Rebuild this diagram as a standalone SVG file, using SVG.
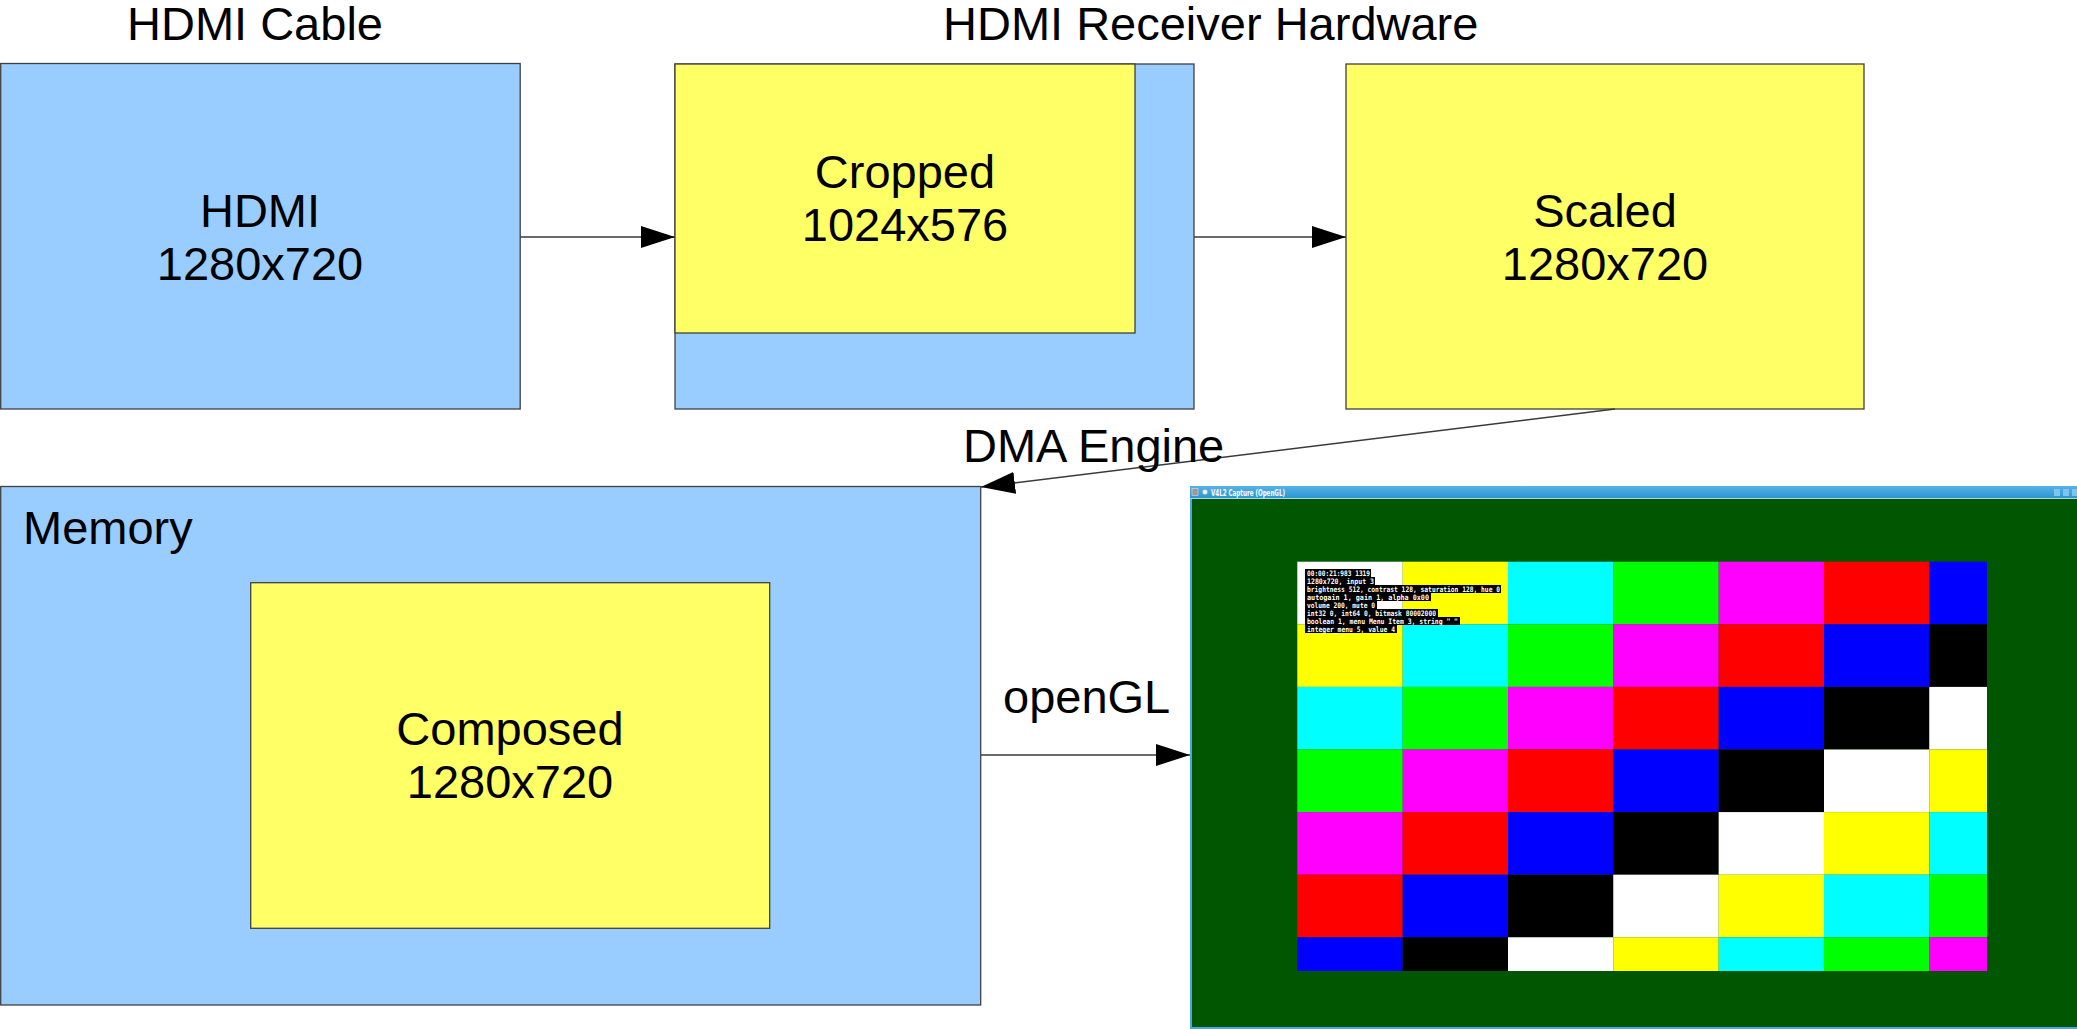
<svg xmlns="http://www.w3.org/2000/svg" width="2077" height="1029" viewBox="0 0 2077 1029">
<style>
.lbl{font-family:"Liberation Sans",Arial,sans-serif;font-size:47px;fill:#000}
.mid{text-anchor:middle}
.blue{fill:#99ccff;stroke:#404040;stroke-width:1.3}
.yel{fill:#ffff66;stroke:#404040;stroke-width:1.3}
.conn{stroke:#3a3a3a;stroke-width:1.4;fill:none;marker-end:url(#ah)}
.osd{font-family:"DejaVu Sans Mono","Liberation Mono",monospace;font-size:7.5px;font-weight:bold;fill:#fff}
</style>
<defs>
<marker id="ah" markerUnits="userSpaceOnUse" markerWidth="34" markerHeight="22" refX="34" refY="11" orient="auto">
<path d="M0,0 L34,11 L0,22 z" fill="#000"/>
</marker>
<linearGradient id="tb" x1="0" y1="0" x2="0" y2="1">
<stop offset="0" stop-color="#56b3e8"/>
<stop offset="1" stop-color="#2a93d0"/>
</linearGradient>
</defs>
<rect width="2077" height="1029" fill="#fff"/>

<text class="lbl mid" x="255" y="40">HDMI Cable</text>
<text class="lbl" x="943" y="40">HDMI Receiver Hardware</text>

<g id="hdmi">
<rect class="blue" x="0.7" y="63.5" width="519.5" height="345.5"/>
<text class="lbl mid" x="260" y="227">HDMI</text>
<text class="lbl mid" x="260" y="280">1280x720</text>
</g>

<g id="receiver">
<rect class="blue" x="675" y="64" width="519" height="345"/>
<rect class="yel" x="675" y="64" width="460" height="269"/>
<text class="lbl mid" x="905" y="188">Cropped</text>
<text class="lbl mid" x="905" y="241">1024x576</text>
</g>

<g id="scaled">
<rect class="yel" x="1346" y="64" width="518" height="345"/>
<text class="lbl mid" x="1605" y="227">Scaled</text>
<text class="lbl mid" x="1605" y="280">1280x720</text>
</g>

<g id="memory">
<rect class="blue" x="0.7" y="486.5" width="980" height="518.5"/>
<text class="lbl" x="23" y="544">Memory</text>
<rect class="yel" x="250.7" y="582.7" width="519" height="345.6"/>
<text class="lbl mid" x="510" y="745">Composed</text>
<text class="lbl mid" x="510" y="798">1280x720</text>
</g>

<g id="capture">
<rect x="1190" y="486" width="890" height="543" fill="#4aa8dc"/>
<rect x="1190" y="486" width="890" height="13" fill="url(#tb)"/>
<line x1="1190" y1="498.5" x2="2077" y2="498.5" stroke="#a8d8f0" stroke-width="1"/>
<rect x="1192" y="488.5" width="6" height="7" fill="#9a9a9a" stroke="#dddddd" stroke-width="0.6"/>
<circle cx="1205" cy="492" r="2.8" fill="#e8f4fb" stroke="#5a8fb0" stroke-width="0.6"/>
<text x="1211" y="495.5" font-family="'DejaVu Sans','Liberation Sans',sans-serif" font-size="8.5" font-weight="bold" fill="#fff" textLength="74" lengthAdjust="spacingAndGlyphs">V4L2 Capture (OpenGL)</text>
<rect x="2054" y="489" width="6" height="7" fill="#7fc4ea"/>
<rect x="2063" y="489" width="6" height="7" fill="#7fc4ea"/>
<rect x="2072" y="489" width="5" height="7" fill="#7fc4ea"/>
<rect x="1192" y="499" width="885" height="528" fill="#015701"/>
<g id="bars">
<rect x="1297.3" y="561.7" width="105.4" height="62.6" fill="#ffffff"/>
<rect x="1402.7" y="561.7" width="105.3" height="62.6" fill="#ffff00"/>
<rect x="1508" y="561.7" width="105.3" height="62.6" fill="#00ffff"/>
<rect x="1613.3" y="561.7" width="105.4" height="62.6" fill="#00ff00"/>
<rect x="1718.7" y="561.7" width="105.3" height="62.6" fill="#ff00ff"/>
<rect x="1824" y="561.7" width="105.3" height="62.6" fill="#ff0000"/>
<rect x="1929.3" y="561.7" width="57.7" height="62.6" fill="#0000ff"/>

<rect x="1297.3" y="624.3" width="105.4" height="62.6" fill="#ffff00"/>
<rect x="1402.7" y="624.3" width="105.3" height="62.6" fill="#00ffff"/>
<rect x="1508" y="624.3" width="105.3" height="62.6" fill="#00ff00"/>
<rect x="1613.3" y="624.3" width="105.4" height="62.6" fill="#ff00ff"/>
<rect x="1718.7" y="624.3" width="105.3" height="62.6" fill="#ff0000"/>
<rect x="1824" y="624.3" width="105.3" height="62.6" fill="#0000ff"/>
<rect x="1929.3" y="624.3" width="57.7" height="62.6" fill="#000000"/>

<rect x="1297.3" y="686.9" width="105.4" height="62.6" fill="#00ffff"/>
<rect x="1402.7" y="686.9" width="105.3" height="62.6" fill="#00ff00"/>
<rect x="1508" y="686.9" width="105.3" height="62.6" fill="#ff00ff"/>
<rect x="1613.3" y="686.9" width="105.4" height="62.6" fill="#ff0000"/>
<rect x="1718.7" y="686.9" width="105.3" height="62.6" fill="#0000ff"/>
<rect x="1824" y="686.9" width="105.3" height="62.6" fill="#000000"/>
<rect x="1929.3" y="686.9" width="57.7" height="62.6" fill="#ffffff"/>

<rect x="1297.3" y="749.5" width="105.4" height="62.6" fill="#00ff00"/>
<rect x="1402.7" y="749.5" width="105.3" height="62.6" fill="#ff00ff"/>
<rect x="1508" y="749.5" width="105.3" height="62.6" fill="#ff0000"/>
<rect x="1613.3" y="749.5" width="105.4" height="62.6" fill="#0000ff"/>
<rect x="1718.7" y="749.5" width="105.3" height="62.6" fill="#000000"/>
<rect x="1824" y="749.5" width="105.3" height="62.6" fill="#ffffff"/>
<rect x="1929.3" y="749.5" width="57.7" height="62.6" fill="#ffff00"/>

<rect x="1297.3" y="812.1" width="105.4" height="62.6" fill="#ff00ff"/>
<rect x="1402.7" y="812.1" width="105.3" height="62.6" fill="#ff0000"/>
<rect x="1508" y="812.1" width="105.3" height="62.6" fill="#0000ff"/>
<rect x="1613.3" y="812.1" width="105.4" height="62.6" fill="#000000"/>
<rect x="1718.7" y="812.1" width="105.3" height="62.6" fill="#ffffff"/>
<rect x="1824" y="812.1" width="105.3" height="62.6" fill="#ffff00"/>
<rect x="1929.3" y="812.1" width="57.7" height="62.6" fill="#00ffff"/>

<rect x="1297.3" y="874.7" width="105.4" height="62.6" fill="#ff0000"/>
<rect x="1402.7" y="874.7" width="105.3" height="62.6" fill="#0000ff"/>
<rect x="1508" y="874.7" width="105.3" height="62.6" fill="#000000"/>
<rect x="1613.3" y="874.7" width="105.4" height="62.6" fill="#ffffff"/>
<rect x="1718.7" y="874.7" width="105.3" height="62.6" fill="#ffff00"/>
<rect x="1824" y="874.7" width="105.3" height="62.6" fill="#00ffff"/>
<rect x="1929.3" y="874.7" width="57.7" height="62.6" fill="#00ff00"/>

<rect x="1297.3" y="937.3" width="105.4" height="33.7" fill="#0000ff"/>
<rect x="1402.7" y="937.3" width="105.3" height="33.7" fill="#000000"/>
<rect x="1508" y="937.3" width="105.3" height="33.7" fill="#ffffff"/>
<rect x="1613.3" y="937.3" width="105.4" height="33.7" fill="#ffff00"/>
<rect x="1718.7" y="937.3" width="105.3" height="33.7" fill="#00ffff"/>
<rect x="1824" y="937.3" width="105.3" height="33.7" fill="#00ff00"/>
<rect x="1929.3" y="937.3" width="57.7" height="33.7" fill="#ff00ff"/>
</g>
<g id="osd">
<rect x="1305" y="569" width="66" height="8" fill="#000"/>
<rect x="1305" y="577" width="70" height="8" fill="#000"/>
<rect x="1305" y="585" width="196" height="8" fill="#000"/>
<rect x="1305" y="593" width="126" height="8" fill="#000"/>
<rect x="1305" y="601" width="72" height="8" fill="#000"/>
<rect x="1305" y="609" width="133" height="8" fill="#000"/>
<rect x="1305" y="617" width="155" height="8" fill="#000"/>
<rect x="1305" y="625" width="92" height="8" fill="#000"/>
<text class="osd" x="1307" y="575.5" textLength="63" lengthAdjust="spacingAndGlyphs">00:00:21:983 1319</text>
<text class="osd" x="1307" y="583.5" textLength="67" lengthAdjust="spacingAndGlyphs">1280x720, input 3</text>
<text class="osd" x="1307" y="591.5" textLength="193" lengthAdjust="spacingAndGlyphs">brightness 512, contrast 128, saturation 128, hue 0</text>
<text class="osd" x="1307" y="599.5" textLength="122" lengthAdjust="spacingAndGlyphs">autogain 1, gain   1, alpha 0x00</text>
<text class="osd" x="1307" y="607.5" textLength="68" lengthAdjust="spacingAndGlyphs">volume 200, mute 0</text>
<text class="osd" x="1307" y="615.5" textLength="129" lengthAdjust="spacingAndGlyphs">int32 0, int64 0, bitmask 80002000</text>
<text class="osd" x="1307" y="623.5" textLength="151" lengthAdjust="spacingAndGlyphs">boolean 1, menu Menu Item 3, string "  "</text>
<text class="osd" x="1307" y="631.5" textLength="88" lengthAdjust="spacingAndGlyphs">integer_menu 5, value 4</text>
</g>
</g>

<g id="connectors">
<line class="conn" x1="520" y1="237" x2="675" y2="237"/>
<line class="conn" x1="1194" y1="237" x2="1346" y2="237"/>
<line class="conn" x1="1615" y1="409" x2="981" y2="487"/>
<line class="conn" x1="981" y1="755" x2="1190" y2="755"/>
<text class="lbl" x="963" y="462">DMA Engine</text>
<text class="lbl" x="1003" y="713">openGL</text>
</g>
</svg>
